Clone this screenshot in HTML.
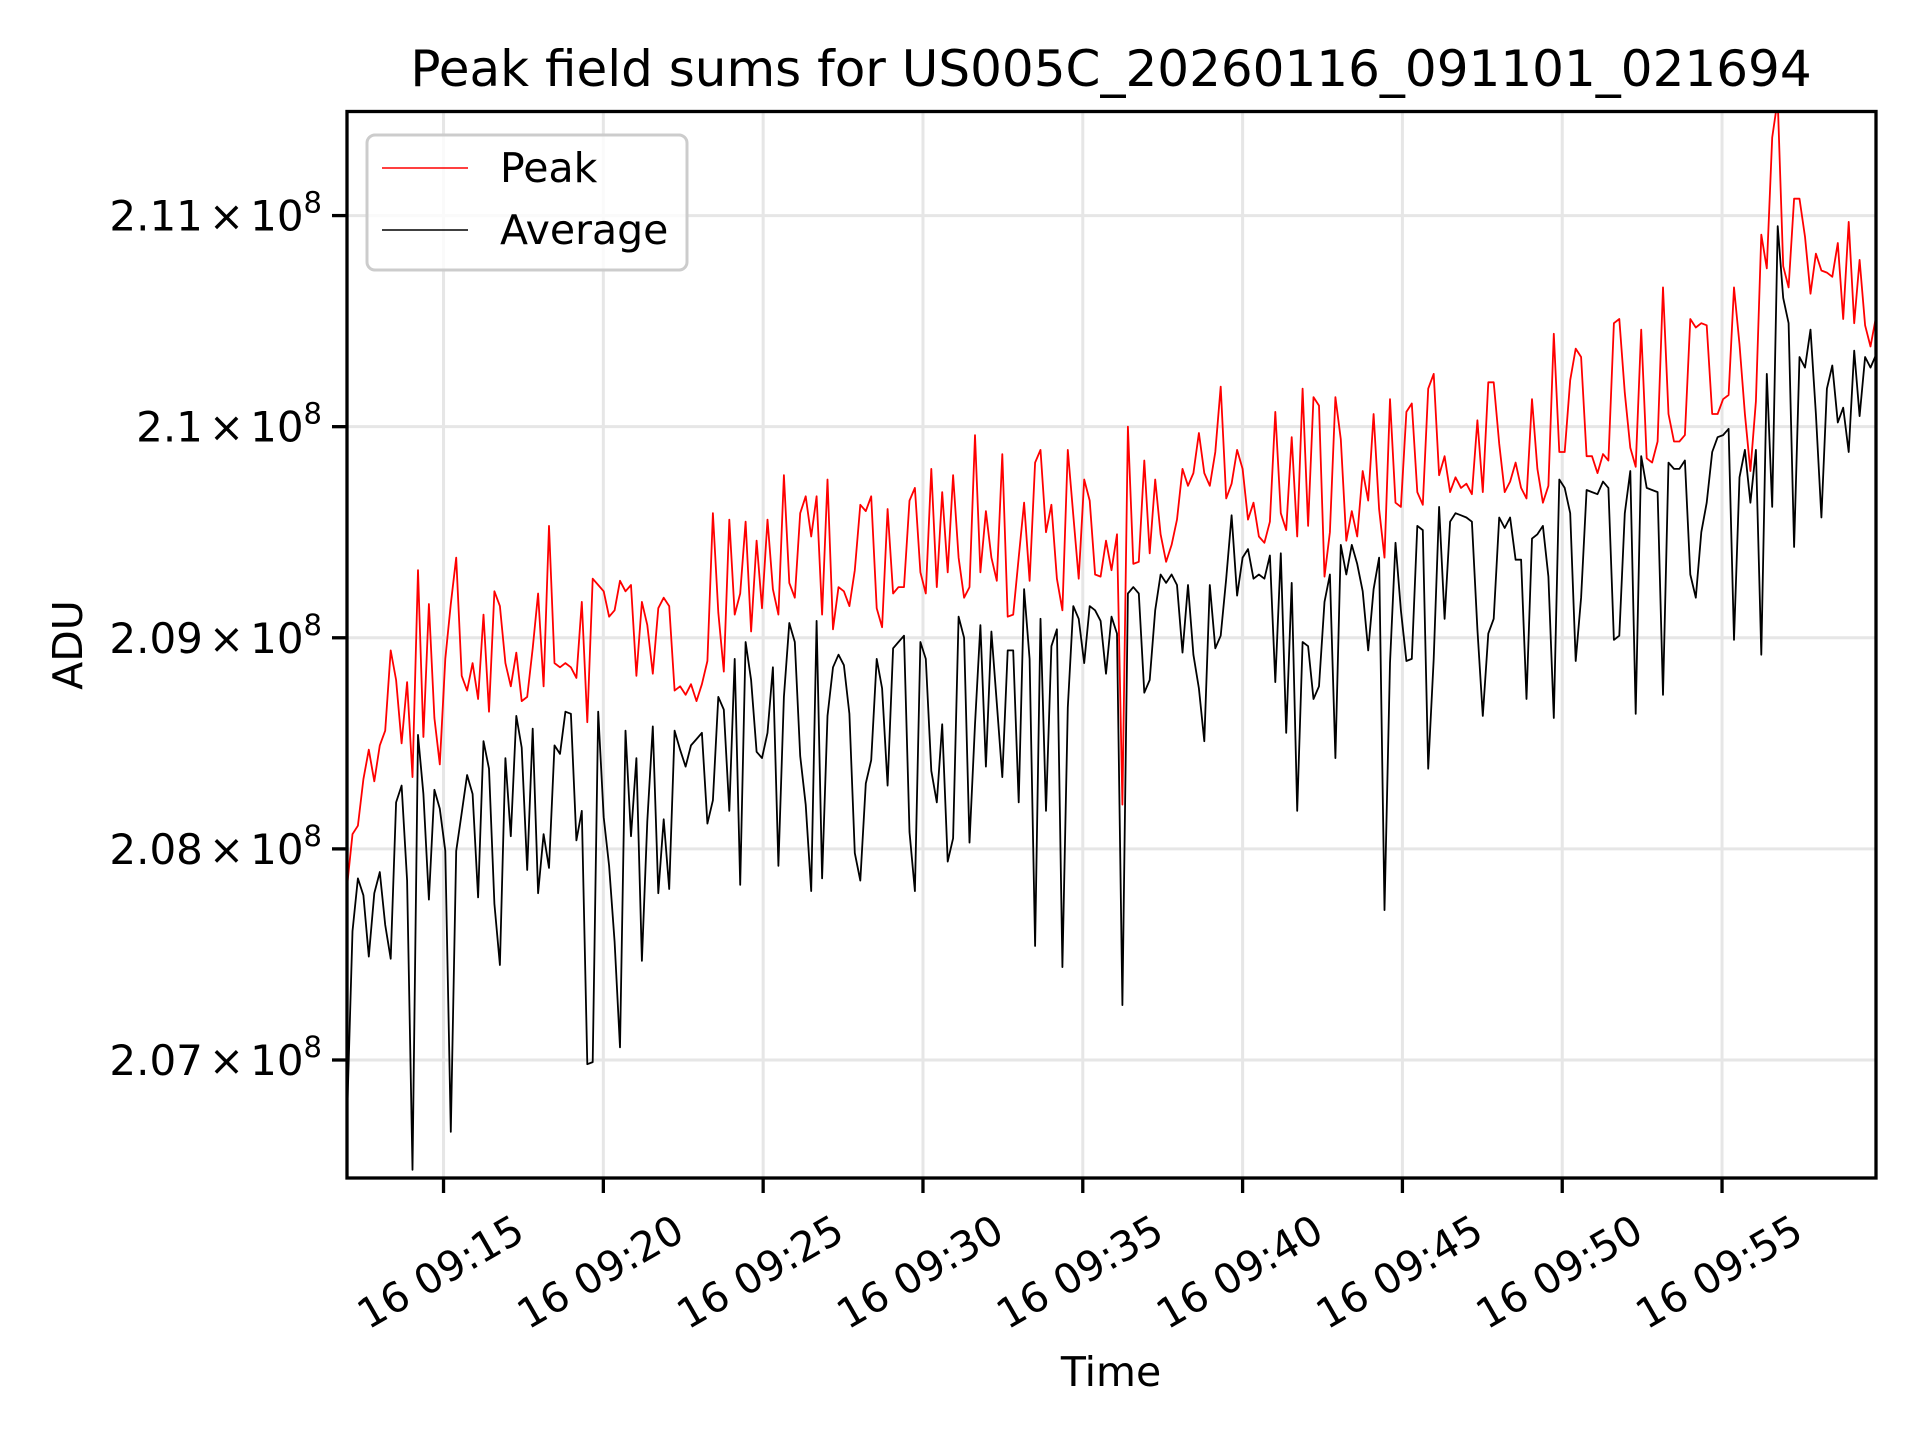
<!DOCTYPE html>
<html><head><meta charset="utf-8"><style>
html,body{margin:0;padding:0;background:#fff;}
svg{display:block;font-family:"DejaVu Sans","Liberation Sans",sans-serif;}
</style></head><body>
<svg id="chart" width="1920" height="1440" viewBox="0 0 1920 1440">
<rect width="1920" height="1440" fill="#fff"/>
<g id="grid"></g>
<g id="series"></g>
<g id="axes"></g>
<text x="1111" y="86" font-size="50" text-anchor="middle" fill="#000">Peak field sums for US005C_20260116_091101_021694</text>
<text x="0" y="0" font-size="41" text-anchor="middle" transform="translate(82,645) rotate(-90)">ADU</text>
<text x="1111" y="1386" font-size="41" text-anchor="middle">Time</text>
<g>
<rect x="367" y="135" width="320" height="135" rx="8" fill="#fff" fill-opacity="0.8" stroke="#ccc" stroke-width="3"/>
<g>
<line x1="382" y1="168" x2="468" y2="168" stroke="#ff0000" stroke-width="1.5"/>
<text x="500" y="182" font-size="41">Peak</text></g>
<g>
<line x1="382" y1="230" x2="468" y2="230" stroke="#000" stroke-width="1.5"/>
<text x="500" y="244" font-size="41">Average</text></g>
</g>
</svg>
<script>
// values in units of 1e6 ADU above 2.00e8
const peakValues = [7.82,8.07,8.11,8.33,8.47,8.32,8.49,8.56,8.94,8.80,8.50,8.79,8.34,9.32,8.53,9.16,8.62,8.40,8.90,9.16,9.38,8.82,8.75,8.88,8.71,9.11,8.65,9.22,9.15,8.88,8.77,8.93,8.70,8.72,8.95,9.21,8.77,9.53,8.88,8.86,8.88,8.86,8.81,9.17,8.60,9.28,9.25,9.22,9.10,9.13,9.27,9.22,9.25,8.82,9.17,9.06,8.83,9.14,9.19,9.15,8.75,8.77,8.73,8.78,8.70,8.78,8.89,9.59,9.12,8.84,9.56,9.11,9.21,9.55,
9.03,9.46,9.14,9.56,9.23,9.11,9.77,9.26,9.19,9.59,9.67,9.48,9.67,9.11,9.75,9.04,9.24,9.22,9.15,9.32,9.63,9.60,9.67,9.14,9.05,9.61,9.21,9.24,9.24,9.65,9.71,9.31,9.21,9.80,9.24,9.69,9.31,9.77,9.38,9.19,9.24,9.96,9.31,9.60,9.38,9.27,9.87,9.10,9.11,9.38,9.64,9.27,9.83,9.89,9.50,9.63,9.28,9.13,9.89,9.58,9.28,9.75,9.65,9.30,9.29,9.46,9.32,9.49,8.21,10.00,9.35,9.36,
9.84,9.40,9.75,9.49,9.36,9.44,9.56,9.80,9.72,9.78,9.97,9.78,9.72,9.88,10.19,9.66,9.73,9.89,9.80,9.56,9.64,9.48,9.45,9.55,10.07,9.59,9.51,9.95,9.48,10.18,9.53,10.14,10.10,9.29,9.50,10.14,9.94,9.46,9.60,9.48,9.79,9.65,10.06,9.61,9.38,10.13,9.64,9.62,10.07,10.11,9.69,9.63,10.18,10.25,9.77,9.86,9.69,9.76,9.71,9.73,9.68,10.03,9.69,10.21,10.21,9.92,9.69,9.74,9.83,9.71,9.66,
10.13,9.80,9.64,9.72,10.44,9.88,9.88,10.22,10.37,10.33,9.86,9.86,9.78,9.87,9.84,10.49,10.51,10.16,9.90,9.81,10.46,9.85,9.83,9.93,10.66,10.06,9.93,9.93,9.96,10.51,10.47,10.49,10.48,10.06,10.06,10.13,10.15,10.66,10.39,10.06,9.79,10.12,10.91,10.75,11.37,11.55,10.76,10.66,11.08,11.08,10.90,10.63,10.82,10.74,10.73,10.71,10.87,10.51,10.97,10.49,10.79,10.48,10.38,10.52];
const averageValues = [6.72,7.61,7.86,7.78,7.49,7.79,7.89,7.64,7.48,8.22,8.30,7.85,6.48,8.54,8.26,7.76,8.28,8.19,7.99,6.66,7.99,8.17,8.35,8.26,7.77,8.51,8.38,7.74,7.45,8.43,8.06,8.63,8.48,7.90,8.57,7.79,8.07,7.91,8.49,8.45,8.65,8.64,8.04,8.18,6.98,6.99,8.65,8.15,7.92,7.56,7.06,8.56,8.06,8.43,7.47,8.13,8.58,7.79,8.14,7.81,8.56,8.47,8.39,8.49,8.52,8.55,8.12,8.23,8.72,8.66,8.18,8.90,7.83,8.98,
8.80,8.46,8.43,8.55,8.86,7.92,8.72,9.07,8.98,8.44,8.21,7.80,9.08,7.86,8.63,8.86,8.92,8.87,8.64,7.98,7.85,8.31,8.42,8.90,8.76,8.30,8.95,8.98,9.01,8.08,7.80,8.98,8.90,8.37,8.22,8.59,7.94,8.05,9.10,9.00,8.03,8.59,9.06,8.39,9.03,8.69,8.34,8.94,8.94,8.22,9.23,8.90,7.54,9.09,8.18,8.96,9.04,7.44,8.67,9.15,9.09,8.88,9.15,9.13,9.08,8.83,9.10,9.02,7.26,9.21,9.24,9.21,
8.74,8.80,9.13,9.30,9.26,9.30,9.25,8.93,9.25,8.92,8.76,8.51,9.25,8.95,9.01,9.28,9.58,9.20,9.38,9.42,9.28,9.30,9.28,9.39,8.79,9.40,8.55,9.26,8.18,8.98,8.96,8.71,8.77,9.17,9.30,8.43,9.44,9.30,9.44,9.35,9.22,8.94,9.23,9.38,7.71,8.88,9.45,9.13,8.89,8.90,9.53,9.51,8.38,8.90,9.62,9.09,9.55,9.59,9.58,9.57,9.55,9.04,8.63,9.02,9.09,9.57,9.52,9.57,9.37,9.37,8.71,
9.47,9.49,9.53,9.29,8.62,9.75,9.71,9.59,8.89,9.19,9.70,9.69,9.68,9.74,9.71,8.99,9.01,9.59,9.79,8.64,9.86,9.71,9.70,9.69,8.73,9.83,9.80,9.80,9.84,9.30,9.19,9.50,9.64,9.88,9.95,9.96,9.99,8.99,9.76,9.89,9.64,9.89,8.92,10.25,9.62,10.95,10.61,10.49,9.43,10.33,10.28,10.46,10.06,9.57,10.18,10.29,10.02,10.09,9.88,10.36,10.05,10.33,10.28,10.34];
const yTickValues = [7, 8, 9, 10, 11];
const yTickLabels = ["2.07", "2.08", "2.09", "2.1", "2.11"];
const xTickMinutes = [15, 20, 25, 30, 35, 40, 45, 50, 55];
const xTickLabels = ["16 09:15","16 09:20","16 09:25","16 09:30","16 09:35","16 09:40","16 09:45","16 09:50","16 09:55"];

const NS = "http://www.w3.org/2000/svg";
const L = 347, R = 1876, T = 111.5, B = 1178;
const yMin = 6.441, yMax = 11.493;
const tMin = 718.8, tMax = 3589; // seconds after 09:00
function yScale(v) { return B - (v - yMin) / (yMax - yMin) * (B - T); }
function xScale(s) { return L + (s - tMin) / (tMax - tMin) * (R - L); }
function idxX(i, n) { return xScale(tMin + i * (tMax - tMin) / (n - 1)); }
function mk(tag, attrs, parent) {
  const e = document.createElementNS(NS, tag);
  for (const k in attrs) e.setAttribute(k, attrs[k]);
  parent.appendChild(e);
  return e;
}
const grid = document.getElementById('grid');
const axes = document.getElementById('axes');
const series = document.getElementById('series');

yTickValues.forEach((v, i) => {
  const y = yScale(v);
  const g = mk('line', {x1: L, x2: R, y1: y, y2: y, stroke: '#e6e6e6', 'stroke-width': 3}, grid);
  
  
  const t = mk('line', {x1: L - 15, x2: L, y1: y, y2: y, stroke: '#000', 'stroke-width': 3.3}, axes);
  
  
  const tx = mk('text', {x: 322, y: y + 15, 'font-size': 42, 'text-anchor': 'end'}, axes);
  
  
  tx.innerHTML = yTickLabels[i] + '<tspan dx="6">×</tspan><tspan dx="6">10</tspan><tspan dy="-18" font-size="29">8</tspan>';
});

xTickMinutes.forEach((m, i) => {
  const x = xScale(m * 60);
  const g = mk('line', {x1: x, x2: x, y1: T, y2: B, stroke: '#e6e6e6', 'stroke-width': 3}, grid);
  
  
  const t = mk('line', {x1: x, x2: x, y1: B, y2: B + 15, stroke: '#000', 'stroke-width': 3.3}, axes);
  
  
  const cx = x - 3, cy = 1272;
  const tx = mk('text', {x: cx, y: cy + 14, 'font-size': 41, 'text-anchor': 'middle', transform: 'rotate(-30 ' + cx + ' ' + cy + ')'}, axes);
  
  
  tx.textContent = xTickLabels[i];
});

const clip = mk('clipPath', {id: 'plotclip'}, mk('defs', {}, series));
mk('rect', {x: L, y: T, width: R - L, height: B - T}, clip);

function drawLine(vals, color, name) {
  const pts = vals.map((v, i) => idxX(i, vals.length).toFixed(1) + ',' + yScale(v).toFixed(1)).join(' ');
  const p = mk('polyline', {points: pts, fill: 'none', stroke: color, 'stroke-width': 1.8, 'stroke-linejoin': 'round', 'clip-path': 'url(#plotclip)'}, series);
  
  
}
drawLine(averageValues, '#000000', 'average-line');
drawLine(peakValues, '#ff0000', 'peak-line');

const frame = mk('rect', {x: L, y: T, width: R - L, height: B - T, fill: 'none', stroke: '#000', 'stroke-width': 3.3}, axes);


</script>
</body></html>
